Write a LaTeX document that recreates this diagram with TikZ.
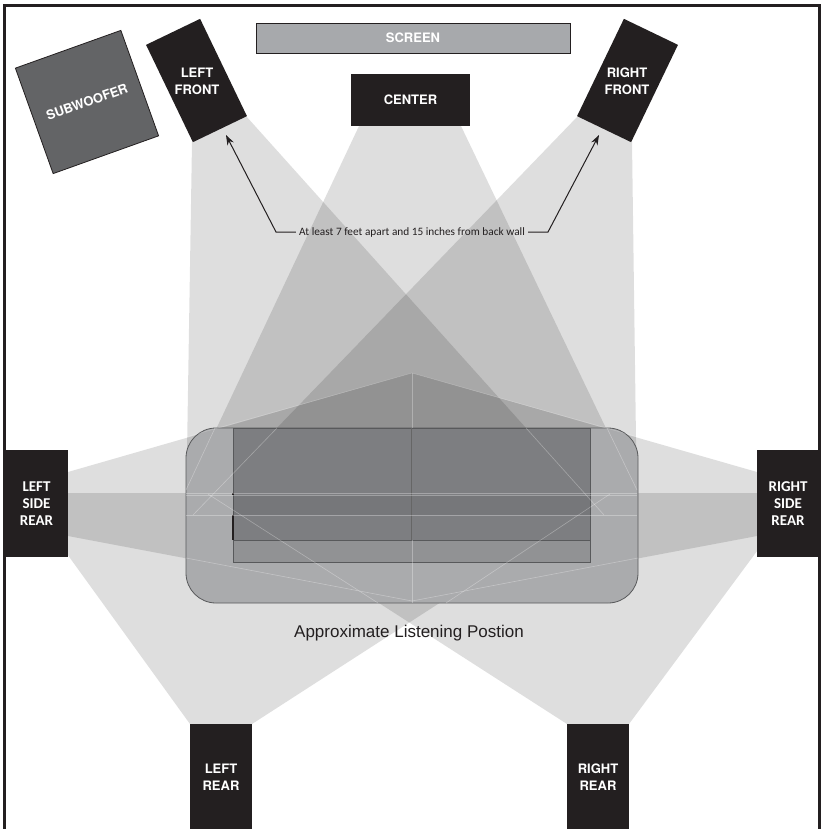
\documentclass[tikz,border=0pt]{standalone}
\usepackage{fontspec}
\setmainfont{Liberation Sans}
\newfontfamily\notefont{Carlito}
\newfontfamily\labelfont{TeX Gyre Heros}
\usetikzlibrary{arrows.meta}
\definecolor{speakerblack}{HTML}{231F20}
\definecolor{screengray}{HTML}{A7A9AC}
\definecolor{subgray}{HTML}{636466}
\definecolor{couchgray}{HTML}{AAABAD}
\definecolor{seatgray}{HTML}{7D7E81}
\definecolor{cushiongray}{HTML}{919294}
\definecolor{edgegray}{HTML}{58595B}

\tikzset{
	beam/.style={fill=black, fill opacity=0.13, draw=none},
	beamline/.style={draw=white, draw opacity=0.3, line width=0.6pt},
	speaker/.style={fill=speakerblack, draw=none, text=white, font=\labelfont\bfseries\fontsize{13}{17}\selectfont, align=center, inner sep=0pt},
	sidespeaker/.style={speaker, font=\notefont\bfseries\fontsize{15}{17}\selectfont},
	couchpart/.style={draw=edgegray, line width=0.8pt},
	pointer/.style={draw=speakerblack, line width=1pt, -{Stealth[length=10pt, width=7pt]}}
}

\begin{document}
\begin{tikzpicture}[x=1pt, y=-1pt]
	\useasboundingbox (0,0) rectangle (824,829);
	\fill[white] (0,0) rectangle (824,829);

	% speaker coverage
	\path[beam] (192,142) -- (246,116) -- (604,515) -- (186,515) -- cycle;
	\path[beam] (578,116) -- (632,142) -- (637,515) -- (193,515) -- cycle;
	\path[beam] (359,126) -- (461,126) -- (637,493) -- (186,493) -- cycle;
	\path[beam] (68,472) -- (412,373) -- (412,601) -- (68,536) -- cycle;
	\path[beam] (757,472) -- (412,373) -- (412,601) -- (757,536) -- cycle;
	\path[beam] (190,724) -- (252,724) -- (610,493) -- (23,493) -- cycle;
	\path[beam] (629,724) -- (567,724) -- (208,493) -- (800,493) -- cycle;

	% couch
	\path[couchpart, fill=couchgray, rounded corners=30pt] (186,428) rectangle (638,603);
	\path[couchpart, fill=cushiongray] (233,428) rectangle (590,562);
	\path[couchpart, fill=seatgray] (233,428) rectangle (590,540);
	\fill[black, opacity=0.05] (233,495) rectangle (590,515);
	\draw[black!60, line width=0.6pt] (411,428) -- (411,540);
	\draw[speakerblack, line width=1.2pt] (233,493) -- (233,495) (233,515) -- (233,540);

	% beam edges on top of the couch
	\draw[beamline] (412,373) -- (412,428);
	\draw[beamline] (412,540) -- (412,603);
	\draw[beamline, draw opacity=0.2] (412,373) -- (186,437);
	\draw[beamline, draw opacity=0.2] (412,373) -- (638,437);
	\draw[beamline] (186,493) -- (637,493);
	\draw[beamline] (186,495) -- (637,495);
	\draw[beamline] (186,515) -- (637,515);
	\draw[beamline] (215,428) -- (186,490);
	\draw[beamline] (607,428) -- (637,490);
	\draw[beamline] (193,515) -- (277,428);
	\draw[beamline] (604,515) -- (526,428);
	\draw[beamline] (208,494) -- (378,603);
	\draw[beamline] (610,494) -- (446,603);
	\draw[beamline] (186,558) -- (412,601);
	\draw[beamline] (638,558) -- (412,601);

	% room
	\draw[speakerblack, line width=3pt] (4,840) -- (4,6) -- (819,6) -- (819,840);

	\node[speaker, fill=screengray, draw=speakerblack, line width=0.8pt, minimum width=314pt, minimum height=30pt] (screen) at (413,38) {SCREEN};
	\node[speaker, minimum width=119pt, minimum height=52pt] (center) at (410.5,100) {CENTER};
	\node[speaker, fill=subgray, draw=speakerblack, line width=0.8pt, minimum width=112pt, minimum height=112pt, rotate=19.7] (subwoofer) at (87,102) {SUBWOOFER};
	\node[speaker, minimum width=60pt, minimum height=108pt, rotate=25.7] (leftfront) at (196.5,80.5) {};
	\node[speaker, minimum width=60pt, minimum height=108pt, rotate=-25.7] (rightfront) at (627.5,80.5) {};
	\node[speaker, fill=none] (leftfronttext) at (197,81) {LEFT\\FRONT};
	\node[speaker, fill=none] (rightfronttext) at (627,81) {RIGHT\\FRONT};
	\node[sidespeaker, minimum width=63pt, minimum height=107pt] (leftside) at (36.5,503.5) {LEFT\\SIDE\\REAR};
	\node[sidespeaker, minimum width=62pt, minimum height=107pt] (rightside) at (788,503.5) {RIGHT\\SIDE\\REAR};
	\node[speaker, minimum width=62pt, minimum height=106pt] (leftrear) at (221,777) {LEFT\\REAR};
	\node[speaker, minimum width=62pt, minimum height=106pt] (rightrear) at (598,777) {RIGHT\\REAR};

	\node[font=\notefont\fontsize{11.3}{13}\selectfont, text=speakerblack, inner sep=3pt] (note) at (412,232) {At least 7 feet apart and 15 inches from back wall};
	\node[font=\fontsize{17}{20}\selectfont, text=speakerblack, inner sep=0pt] (listening) at (409,633) {Approximate Listening Postion};

	\coordinate (leftaim) at (226,135);
	\coordinate (rightaim) at (599,135);
	\draw[pointer] (note.west) -- (276,232) -- (leftaim);
	\draw[pointer] (note.east) -- (548,232) -- (rightaim);
\end{tikzpicture}
\end{document}
